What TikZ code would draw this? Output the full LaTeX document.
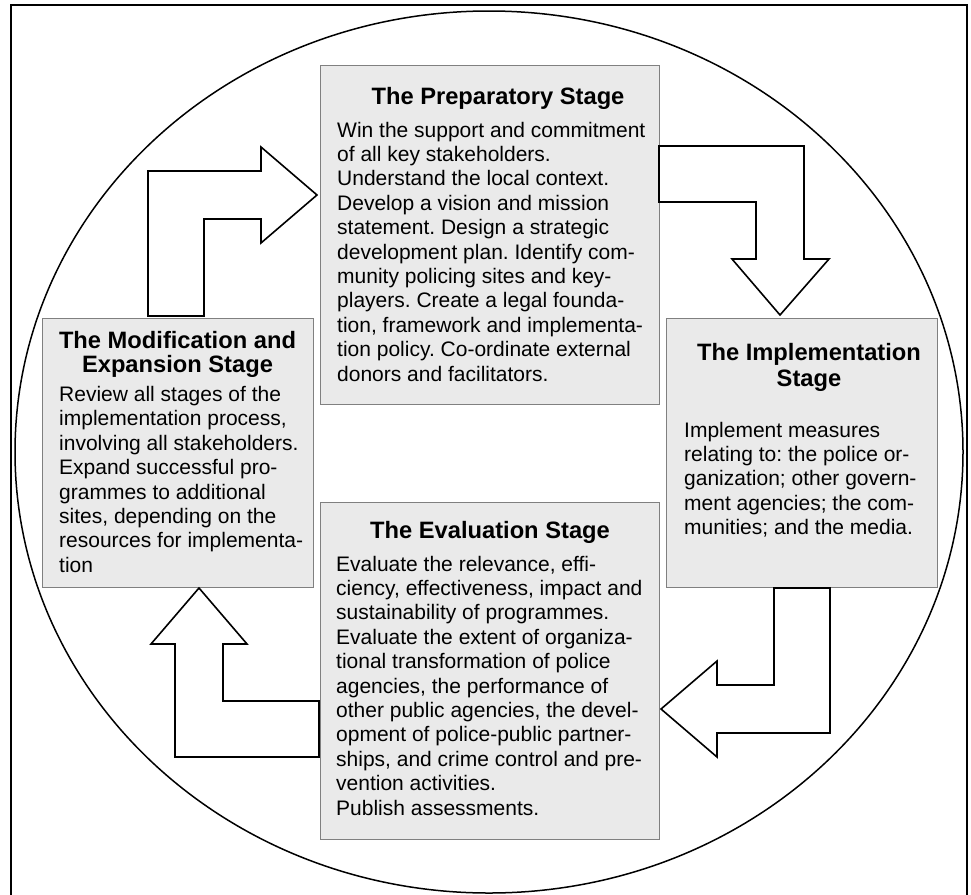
\documentclass[tikz,border=0pt]{standalone}
\usepackage{fontspec}
\setmainfont{Liberation Sans}[Ligatures=NoCommon]
\frenchspacing
\definecolor{boxfill}{HTML}{EAEAEA}
\definecolor{boxline}{HTML}{808080}
\tikzset{
  stagebox/.style={draw=boxline, fill=boxfill, line width=1.2pt, inner sep=0pt, anchor=north west},
  blockarrow/.style={draw=black, fill=white, line width=1.6pt, line join=miter},
  titletext/.style={font=\fontsize{23.7}{25}\selectfont\bfseries\frenchspacing, align=center, inner sep=0pt, anchor=base},
  bodytext/.style={font=\fontsize{21}{24.4}\selectfont\frenchspacing, align=left, inner sep=0pt, anchor=base west},
  outline/.style={draw=black, line width=1.5pt},
}
\begin{document}
\begin{tikzpicture}[x=1pt, y=-1pt]
\useasboundingbox (0,0) rectangle (971,894);
% frame (bottom edge lies outside the picture)
\draw[outline] (11,900) -- (11,5) -- (967,5) -- (967,900);
% big ellipse
\draw[outline] (489,452) ellipse [x radius=474, y radius=441];

% stage boxes
\node[stagebox, minimum width=339.5pt, minimum height=339pt] (prep) at (319.5,64.5) {};
\node[stagebox, minimum width=271pt, minimum height=269.5pt] (mod) at (41.5,317.5) {};
\node[stagebox, minimum width=271pt, minimum height=269.5pt] (impl) at (665.6,317.5) {};
\node[stagebox, minimum width=339.5pt, minimum height=337.5pt] (eval) at (319.5,501.7) {};

% block arrows
\draw[blockarrow] (148,316) -- (148,171) -- (261,171) -- (261,147) -- (317,195)
  -- (261,243) -- (261,219) -- (204,219) -- (204,316) -- cycle;
\draw[blockarrow] (659,146) -- (804,146) -- (804,259) -- (829,259) -- (780,315)
  -- (732,259) -- (756,259) -- (756,202) -- (659,202) -- cycle;
\draw[blockarrow] (774,588) -- (774,685) -- (717,685) -- (717,661) -- (661,709)
  -- (717,757) -- (717,733) -- (830,733) -- (830,588) -- cycle;
\draw[blockarrow] (319,701) -- (223,701) -- (223,644) -- (247,644) -- (199,588)
  -- (151,644) -- (175,644) -- (175,757) -- (319,757) -- cycle;

% texts (for several lines, the base anchor is the last line's baseline)
\node[titletext] (preptitle) at (498,104) {The Preparatory Stage};
\node[bodytext] (prepbody) at (337,381) {Win the support and commitment\\
of all key stakeholders.\\
Understand the local context.\\
Develop a vision and mission\\
statement. Design a strategic\\
development plan. Identify com-\\
munity policing sites and key-\\
players. Create a legal founda-\\
tion, framework and implementa-\\
tion policy. Co-ordinate external\\
donors and facilitators.};

\node[titletext, font=\fontsize{23.7}{24}\selectfont\bfseries] (modtitle) at (177.5,372) {The Modification and\\Expansion Stage};
\node[bodytext] (modbody) at (59,572.3) {Review all stages of the\\
implementation process,\\
involving all stakeholders.\\
Expand successful pro-\\
grammes to additional\\
sites, depending on the\\
resources for implementa-\\
tion};

\node[titletext, font=\fontsize{23.7}{26.5}\selectfont\bfseries] (impltitle) at (809,386.5) {The Implementation\\Stage};
\node[bodytext] (implbody) at (684,534.6) {Implement measures\\
relating to: the police or-\\
ganization; other govern-\\
ment agencies; the com-\\
munities; and the media.};

\node[titletext] (evaltitle) at (490,538) {The Evaluation Stage};
\node[bodytext] (evalbody) at (336,815) {Evaluate the relevance, effi-\\
ciency, effectiveness, impact and\\
sustainability of programmes.\\
Evaluate the extent of organiza-\\
tional transformation of police\\
agencies, the performance of\\
other public agencies, the devel-\\
opment of police-public partner-\\
ships, and crime control and pre-\\
vention activities.\\
Publish assessments.};
\end{tikzpicture}
\end{document}
